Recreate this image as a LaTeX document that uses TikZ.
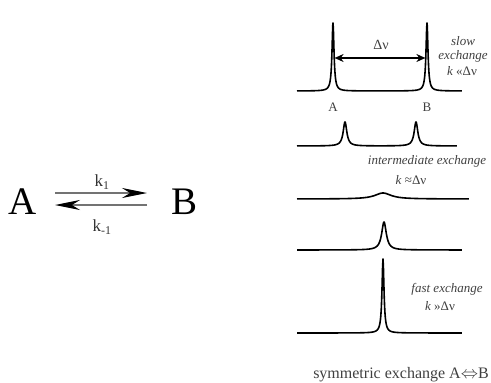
\documentclass[tikz,border=0pt]{standalone}
\usepackage{fontspec}
\setmainfont{Liberation Serif}
\usetikzlibrary{arrows.meta}
\tikzset{
  spec/.style={line width=1.6pt, black, line join=round},
  lab/.style={font=\fontsize{13}{15}\selectfont, text=black!75, inner sep=0pt},
  big/.style={font=\fontsize{39}{40}\selectfont, inner sep=0pt, anchor=base},
  rate/.style={font=\fontsize{17}{18}\selectfont, text=black!80, inner sep=0pt},
  eqarrow/.style={line width=1.2pt, draw=black!55},
}
\begin{document}
\begin{tikzpicture}[x=1pt,y=-1pt,
  declare function={L(\x,\c,\w)=\w*\w/((\x-\c)*(\x-\c)+\w*\w);}]
\useasboundingbox (0,0) rectangle (491,383);
% left: equilibrium
\node[big] (A) at (23,214) {A};
\node[big] (B) at (185,214) {B};
\coordinate (u1) at (55,193);
\coordinate (u2) at (147,193);
\coordinate (l1) at (55,205);
\coordinate (l2) at (147,205);
\draw[eqarrow, -{Stealth[length=25pt,width=10pt,color=black]}] (u1) -- (u2);
\draw[eqarrow, -{Stealth[length=25pt,width=10pt,color=black]}] (l2) -- (l1);
\node[rate] (k1) at (102,182) {k\textsubscript{1}};
\node[rate] (km1) at (102,227) {k\textsubscript{-1}};
% spectra
\draw[spec] plot[domain=29.7:33.3,samples=150] ({10*\x},{91-68*(L(\x,33.3,0.12)+L(\x,42.7,0.12))})
  -- plot[domain=33.3:42.7,samples=250] ({10*\x},{91-68*(L(\x,33.3,0.12)+L(\x,42.7,0.12))})
  -- plot[domain=42.7:46.2,samples=150] ({10*\x},{91-68*(L(\x,33.3,0.12)+L(\x,42.7,0.12))});
\draw[spec] plot[domain=29.7:34.5,samples=120] ({10*\x},{146-24*(L(\x,34.5,0.22)+L(\x,41.6,0.22))})
  -- plot[domain=34.5:41.6,samples=180] ({10*\x},{146-24*(L(\x,34.5,0.22)+L(\x,41.6,0.22))})
  -- plot[domain=41.6:45.7,samples=120] ({10*\x},{146-24*(L(\x,34.5,0.22)+L(\x,41.6,0.22))});
\draw[spec] plot[domain=29.7:46.9,samples=200] ({10*\x},{199-6*L(\x,38.3,1.0)});
\draw[spec] plot[domain=29.7:38.4,samples=150] ({10*\x},{250-28*L(\x,38.4,0.28)})
  -- plot[domain=38.4:46.2,samples=150] ({10*\x},{250-28*L(\x,38.4,0.28)});
\draw[spec] plot[domain=29.7:38.3,samples=200] ({10*\x},{333-74*L(\x,38.3,0.12)})
  -- plot[domain=38.3:46.2,samples=200] ({10*\x},{333-74*L(\x,38.3,0.12)});
% delta nu arrow
\coordinate (pA) at (334.6,58);
\coordinate (pB) at (425.4,58);
\draw[line width=1.6pt, {Stealth[length=9pt,width=8pt]}-{Stealth[length=9pt,width=8pt]}] (pA) -- (pB);
\node[lab, font=\fontsize{14}{15}\selectfont] (dnu) at (381,45) {Δν};
% labels
\node[lab] (pa) at (333,107) {A};
\node[lab] (pb) at (427,107) {B};
\node[lab, font=\fontsize{13}{15}\selectfont\itshape] (slow) at (463,41) {slow};
\node[lab, font=\fontsize{13}{15}\selectfont\itshape] (ex1) at (463,56) {exchange};
\node[lab] (k1r) at (462,71) {\textit{k} «Δν};
\node[lab, font=\fontsize{13}{15}\selectfont\itshape] (inter) at (427,161) {intermediate exchange};
\node[lab] (k2r) at (411,180) {\textit{k} ≈Δν};
\node[lab, font=\fontsize{13}{15}\selectfont\itshape] (fast) at (447,289) {fast exchange};
\node[lab] (k3r) at (440,306) {\textit{k} »Δν};
\node[lab, font=\fontsize{16}{18}\selectfont] (cap) at (401,375) {symmetric exchange A$\Leftrightarrow$B};
\end{tikzpicture}
\end{document}
